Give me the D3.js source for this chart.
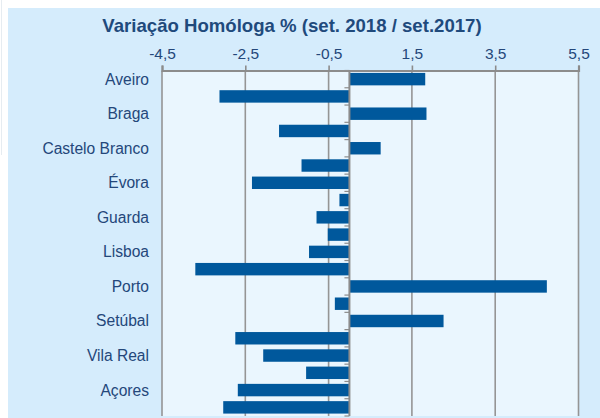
<!DOCTYPE html>
<html>
<head>
<meta charset="utf-8">
<script src="https://cdn.jsdelivr.net/npm/d3@7"></script>
<style>
	body { margin: 0; background: #fff; }
	svg { display: block; font-family: "Liberation Sans", Arial, sans-serif; }
</style>
</head>
<body>
<svg id="chart" width="600" height="418"></svg>
<script>
// districts (only every other one is labelled in the original)
var categories = ["Aveiro", "Beja", "Braga", "Bragança", "Castelo Branco", "Coimbra",
	"Évora", "Faro", "Guarda", "Leiria", "Lisboa", "Portalegre", "Porto", "Santarém",
	"Setúbal", "Viana do Castelo", "Vila Real", "Viseu", "Açores", "Madeira"];

var values = [1.82, -3.12, 1.85, -1.69, 0.75, -1.15, -2.34, -0.24, -0.79, -0.52,
	-0.97, -3.70, 4.74, -0.35, 2.26, -2.74, -2.07, -1.04, -2.68, -3.03];

var tickValues = [-4.5, -2.5, -0.5, 1.5, 3.5, 5.5];

var title = "Variação Homóloga % (set. 2018 / set.2017)";

var margin = {top: 70.5, right: 21.5, bottom: 2, left: 162};
var width = 600 - margin.left - margin.right;
var height = 418 - margin.top - margin.bottom;

var svg = d3.select("#chart");

// outer panel
svg.append("rect")
	.attr("x", 8).attr("y", 8)
	.attr("width", 592).attr("height", 410)
	.style("fill", "#d5ecfc");

svg.append("line")
	.attr("x1", 1.5).attr("x2", 1.5)
	.attr("y1", 0).attr("y2", 155)
	.style("stroke", "#e6ecf1");

svg.append("text")
	.attr("x", 292).attr("y", 31.5)
	.attr("text-anchor", "middle")
	.style("font-size", "18.6px")
	.style("font-weight", "bold")
	.style("fill", "#1f4a7c")
	.text(title);

var g = svg.append("g")
	.attr("transform", "translate(" + margin.left + "," + margin.top + ")");

var x = d3.scaleLinear().domain([-4.5, 5.5]).range([0, width]);
var y = d3.scaleBand().domain(categories).range([0, height]).paddingInner(0.28).paddingOuter(0.14);

g.append("rect")
	.attr("width", width).attr("height", height)
	.style("fill", "#eaf6fe");

// vertical gridlines
g.selectAll(".grid")
	.data(tickValues)
	.enter()
	.append("line")
	.attr("class", "grid")
	.attr("x1", function(d) {return x(d);})
	.attr("x2", function(d) {return x(d);})
	.attr("y1", 0)
	.attr("y2", height)
	.style("stroke", "#959595")
	.style("stroke-width", 1.6);

// bars
g.selectAll(".bar")
	.data(values)
	.enter()
	.append("rect")
	.attr("class", "bar")
	.attr("x", function(d) {return x(Math.min(0, d));})
	.attr("y", function(d, i) {return y(categories[i]);})
	.attr("width", function(d) {return Math.abs(x(d) - x(0));})
	.attr("height", y.bandwidth())
	.style("fill", "#00589c");

// top axis, comma decimals and a plain hyphen for the minus
var fmt = function(d) {return d.toFixed(1).replace(".", ",");};
var xAxis = g.append("g")
	.call(d3.axisTop(x).tickValues(tickValues).tickFormat(fmt).tickSize(5).tickPadding(7));
xAxis.select(".domain").style("stroke", "#8c8c8c").style("stroke-width", 2.2);
xAxis.selectAll(".tick line").style("stroke", "#8c8c8c").style("stroke-width", 1.6);
xAxis.selectAll(".tick text")
	.style("font-size", "15.5px")
	.style("font-family", "\"Liberation Sans\", Arial, sans-serif")
	.style("fill", "#24477a");

// zero line with band separators
var bounds = d3.range(categories.length + 1).map(function(i) {return i * height / categories.length;});
g.append("line")
	.attr("x1", x(0)).attr("x2", x(0))
	.attr("y1", 0).attr("y2", height)
	.style("stroke", "#8c8c8c")
	.style("stroke-width", 2);
g.selectAll(".sep")
	.data(bounds)
	.enter()
	.append("line")
	.attr("class", "sep")
	.attr("x1", x(0) - 5).attr("x2", x(0))
	.attr("y1", function(d) {return d;})
	.attr("y2", function(d) {return d;})
	.style("stroke", "#8c8c8c")
	.style("stroke-width", 1.2);

// category labels, every other one
g.selectAll(".lbl")
	.data(categories.filter(function(d, i) {return i % 2 == 0;}))
	.enter()
	.append("text")
	.attr("class", "lbl")
	.attr("x", -13)
	.attr("y", function(d) {return y(d) + y.bandwidth() / 2;})
	.attr("dy", "0.35em")
	.attr("text-anchor", "end")
	.style("font-size", "15.6px")
	.style("fill", "#24477a")
	.text(function(d) {return d;});
</script>
</body>
</html>
